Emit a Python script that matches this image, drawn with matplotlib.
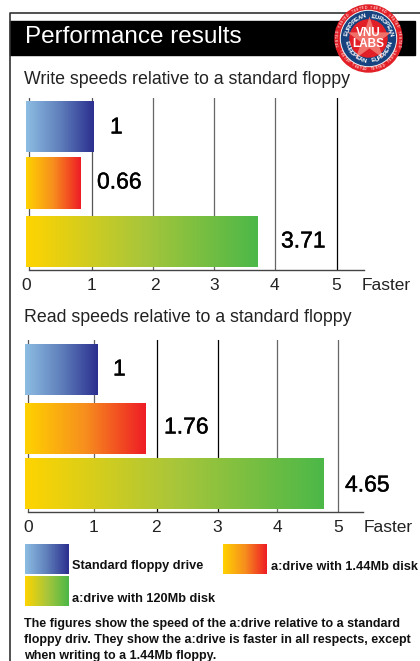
import numpy as np
import matplotlib
matplotlib.use('Agg')
import matplotlib.pyplot as plt
import matplotlib.patheffects as pe
from matplotlib.colors import LinearSegmentedColormap
from matplotlib.patches import Circle, Rectangle

plt.rcParams['font.family'] = ['Liberation Sans', 'DejaVu Sans']

# data
ticks = [0, 1, 2, 3, 4, 5]
write_bar_ends = [1.03, 0.81, 3.72]
write_labels = ['1', '0.66', '3.71']
read_bar_ends = [1.05, 1.81, 4.77]
read_labels = ['1', '1.76', '4.65']
legend_names = ['Standard floppy drive', 'a:drive with 1.44Mb disk', 'a:drive with 120Mb disk']
title = 'Performance results'
write_title = 'Write speeds relative to a standard floppy'
read_title = 'Read speeds relative to a standard floppy'
note = ['The figures show the speed of the a:drive relative to a standard',
        'floppy driv. They show the a:drive is faster in all respects, except',
        'when writing to a 1.44Mb floppy.']

# the printed axes are hand drawn, ticks are not evenly spaced
write_tick_px = [29, 92, 153, 214, 275, 337]
read_tick_px = [28, 94, 157, 218, 277, 338]
write_grid_cols = ['#555555', '#555555', '#666666', '#666666', '#666666', '#000000']
read_grid_cols = ['#555555', '#666666', '#000000', '#000000', '#666666', '#666666']

W, H = 420, 661
blue = LinearSegmentedColormap.from_list('blue', ['#8dbde3', '#5f7fbb', '#2b2f8f'])
orange = LinearSegmentedColormap.from_list('orange', ['#ffd200', '#f78e1e', '#ee1c25'])
green = LinearSegmentedColormap.from_list('green', ['#ffd400', '#a9c63a', '#4cb848'])
cmaps = [blue, orange, green]
grad = np.linspace(0, 1, 256).reshape(1, -1)
bold_num = [pe.withStroke(linewidth=0.3, foreground='black')]

fig = plt.figure(figsize=(W / 100, H / 100), dpi=100)

# page axes in pixel coordinates, y going down
page = fig.add_axes([0, 0, 1, 1])
page.set_xlim(0, W)
page.set_ylim(H, 0)
page.axis('off')
page.plot([420, 9.5, 9.5], [13, 13, 661], color='#333333', lw=1.2)
page.add_patch(Rectangle((10, 21), 405, 34, color='black'))
page.text(25, 37, title, color='white', fontsize=17.5, va='center')


def chart(top, bottom, right, tick_px, grid_cols, bar_start, bar_ends, labels, rows, label_pos,
          tick_y, tick_shift, faster_x, name, name_y):
    # axes x runs in pixels, values go through the tick positions
    ax = fig.add_axes([15 / W, 1 - bottom / H, (right - 15) / W, (bottom - top) / H])
    ax.set_xlim(15, right)
    ax.set_ylim(bottom, top)
    ax.patch.set_alpha(0)
    for s in ['top', 'left', 'right']:
        ax.spines[s].set_visible(False)
    ax.spines['bottom'].set_color('#444444')
    ax.spines['bottom'].set_linewidth(1.0)
    ax.spines['bottom'].set_bounds(tick_px[0], right)
    ax.set_yticks([])
    ax.set_xticks([])
    for i in range(len(ticks)):
        ax.axvline(tick_px[i], color=grid_cols[i], lw=0.9, zorder=1)
    for i in range(3):
        end = np.interp(bar_ends[i], ticks, tick_px)
        ax.imshow(grad, cmap=cmaps[i], aspect='auto', zorder=2,
                  extent=[bar_start, end, rows[i][1], rows[i][0]])
    ax.set_xlim(15, right)
    ax.set_ylim(bottom, top)
    for i in range(3):
        page.text(label_pos[i][0], label_pos[i][1], labels[i], fontsize=16.5,
                  ha='left', va='center', color='black', path_effects=bold_num)
    for i in range(len(ticks)):
        page.text(tick_px[i] + tick_shift[i], tick_y, str(ticks[i]), fontsize=12.5, ha='center', va='center', color='#222222')
    page.text(faster_x, tick_y, 'Faster', fontsize=12.5, va='center', color='#222222')
    page.text(24, name_y, name, fontsize=12.75, va='center', color='#222222')


chart(98, 269.5, 364, write_tick_px, write_grid_cols, 26, write_bar_ends, write_labels,
      [(101, 152), (157.5, 209), (216, 267)],
      [(110, 127), (97, 182), (281, 241)], 286, [-3, 0, 2, 0, -1, -1], 362, write_title, 79)
chart(340, 512, 363, read_tick_px, read_grid_cols, 25, read_bar_ends, read_labels,
      [(344, 395), (403, 454), (458.5, 509)],
      [(113, 369), (164, 427), (345, 485)], 527.5, [0, -1, -1, -1, 0, 0], 364, read_title, 318)

# legend swatches
page.imshow(grad, cmap=blue, aspect='auto', extent=[25, 69, 574, 544], zorder=3)
page.imshow(grad, cmap=orange, aspect='auto', extent=[223, 267, 574, 544], zorder=3)
page.imshow(grad, cmap=green, aspect='auto', extent=[25, 69, 606, 576], zorder=3)
page.set_xlim(0, W)
page.set_ylim(H, 0)
page.text(72, 566.5, legend_names[0], fontsize=9.2, weight='bold', va='center', color='#111111')
page.text(271, 566.5, legend_names[1], fontsize=9.2, weight='bold', va='center', color='#111111')
page.text(72, 598.5, legend_names[2], fontsize=9.2, weight='bold', va='center', color='#111111')
for i, line in enumerate(note):
    page.text(24, 623.5 + i * 16, line, fontsize=9.0, weight='bold', va='center', color='#111111')

# VNU Labs badge
bx, by = 368.5, 38.5
page.add_patch(Circle((bx, by), 33.5, color='#e21f26', zorder=5))
page.add_patch(Circle((bx, by), 28, color='#f2f2f2', zorder=5))
page.add_patch(Circle((bx, by), 27, color='#16427f', zorder=5))
page.add_patch(Circle((bx, by), 18.5, color='#e21f26', zorder=5))
page.scatter([bx], [by], marker='*', s=1100, color='#f0706a', zorder=6, linewidths=0)
page.text(bx, by - 6, 'VNU', color='white', fontsize=8.5, weight='bold', ha='center', va='center', zorder=7)
page.text(bx, by + 5.5, 'LABS', color='white', fontsize=8.5, weight='bold', ha='center', va='center', zorder=7)


def ring_text(word, centre, step, radius, size, colour, flip):
    for k, ch in enumerate(word):
        off = (len(word) / 2 - 0.5 - k) * step
        a = centre - off if flip else centre + off
        r = np.deg2rad(a)
        page.text(bx + radius * np.cos(r), by - radius * np.sin(r), ch, color=colour, fontsize=size, weight='bold',
                  ha='center', va='center', rotation=a + 90 if flip else a - 90, zorder=7)


for centre, flip in [(135, False), (45, False), (225, True), (315, True)]:
    ring_text('EUROPEAN', centre, 9.5, 22.5, 4.4, 'white', flip)
for centre in range(0, 360, 36):
    ring_text('TESTED', centre, 5, 30.8, 2.4, '#ffd9d9', 180 < centre < 360)

fig.savefig('out.png', dpi=100)
